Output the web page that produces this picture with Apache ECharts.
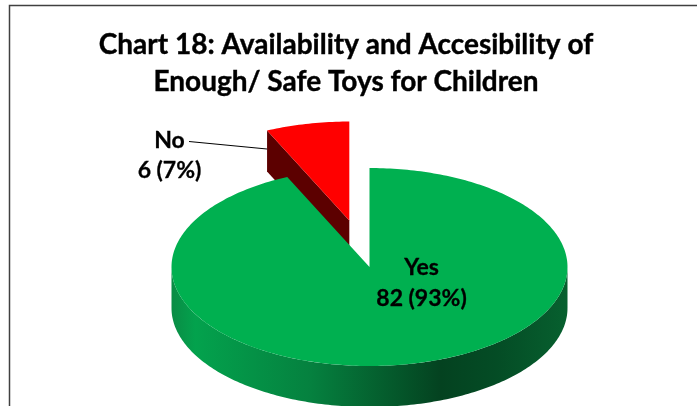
<!DOCTYPE html>
<html><head><meta charset="utf-8">
<style>html,body{margin:0;padding:0;background:#fff}#c{width:697px;height:406px}</style>
<script src="https://cdn.jsdelivr.net/npm/echarts@6/dist/echarts.min.js"></script>
</head><body><div id="c"></div>
<script>
const titleLines = ['Chart 18: Availability and Accesibility of', 'Enough/ Safe Toys for Children'];
const categories = ['Yes', 'No'];
const counts = [82, 6];
const percents = [93, 7];

const FONT = 'Lato';
const total = counts.reduce((a, b) => a + b, 0);
const CX = 369.5, CY = 267, RX = 198, RY = 99, DEPTH = 41, EXPLODE = 0.48;

function pt(ox, oy, deg, r) {
  const a = deg * Math.PI / 180;
  return [ox + RX * r * Math.sin(a), oy - RY * r * Math.cos(a)];
}
function arc(ox, oy, from, to, dy) {
  const out = [], n = Math.max(8, Math.ceil(Math.abs(to - from) / 1));
  for (let i = 0; i <= n; i++) {
    const p = pt(ox, oy, from + (to - from) * i / n, 1);
    out.push([p[0], p[1] + (dy || 0)]);
  }
  return out;
}
const sideGradient = new echarts.graphic.LinearGradient(0, 0, 1, 0, [
  { offset: 0, color: '#0a8c45' },
  { offset: 0.06, color: '#03a24d' },
  { offset: 0.35, color: '#05813f' },
  { offset: 0.68, color: '#044220' },
  { offset: 0.82, color: '#044c25' },
  { offset: 1, color: '#07602f' }
]);

function renderYes(params, api) {
  const sweep = api.value(0) / total * 360;
  const top = [[CX, CY]].concat(arc(CX, CY, 0, sweep));
  const side = arc(CX, CY, 90, 270).concat(arc(CX, CY, 270, 90, DEPTH));
  return { type: 'group', children: [
    { type: 'polygon', shape: { points: side }, style: { fill: sideGradient }, z2: 3 },
    { type: 'polygon', shape: { points: top }, style: { fill: '#00B050' }, z2: 4 }
  ]};
}
function renderNo(params, api) {
  const sweep = api.value(0) / total * 360;
  const start = 360 - sweep, end = 360;
  const off = pt(0, 0, start + sweep / 2, EXPLODE);
  const ox = CX + off[0], oy = CY + off[1];
  const corner = pt(ox, oy, start, 1);
  const top = [[ox, oy]].concat(arc(ox, oy, start, end));
  const face = [[ox, oy], corner, [corner[0], corner[1] + DEPTH], [ox, oy + DEPTH]];
  const lead = [[189, 141.5], [corner[0], corner[1] + 18.5]];
  return { type: 'group', children: [
    { type: 'polygon', shape: { points: face }, style: { fill: '#5c0000' }, z2: 1 },
    { type: 'polygon', shape: { points: top }, style: { fill: '#FF0000' }, z2: 2 },
    { type: 'polyline', shape: { points: lead }, style: { stroke: '#000', lineWidth: 1, fill: null }, z2: 5 }
  ]};
}
function labelText(i) { return categories[i] + '\n' + counts[i] + ' (' + percents[i] + '%)'; }
const labelStyle = { fontFamily: FONT, fontWeight: 'bold', fill: '#000', align: 'center', verticalAlign: 'middle', stroke: '#000', lineWidth: 0.3 };

const chart = echarts.init(document.getElementById('c'), null, { renderer: 'canvas' });
chart.setOption({
  animation: false,
  backgroundColor: '#fff',
  title: {
    text: titleLines.join('\n'), left: 341, top: 21, textAlign: 'center',
    textStyle: { fontFamily: FONT, fontWeight: 'bold', fontSize: 28, lineHeight: 37, color: '#000', textBorderColor: '#000', textBorderWidth: 0.4 }
  },
  graphic: [
    { type: 'rect', shape: { x: 9.5, y: 5.5, width: 720, height: 420 },
      style: { fill: 'none', stroke: '#404040', lineWidth: 1.5 }, silent: true, z: -1 },
    { type: 'text', x: 169.5, y: 156, style: Object.assign({ text: labelText(1), fontSize: 23, lineHeight: 30 }, labelStyle), z: 10 },
    { type: 'text', x: 421.5, y: 283, style: Object.assign({ text: labelText(0), fontSize: 23, lineHeight: 31 }, labelStyle), z: 10 }
  ],
  series: [
    { type: 'custom', coordinateSystem: 'none', silent: true, z: 2, renderItem: renderNo, data: [[counts[1]]] },
    { type: 'custom', coordinateSystem: 'none', silent: true, z: 3, renderItem: renderYes, data: [[counts[0]]] }
  ]
});
</script></body></html>
